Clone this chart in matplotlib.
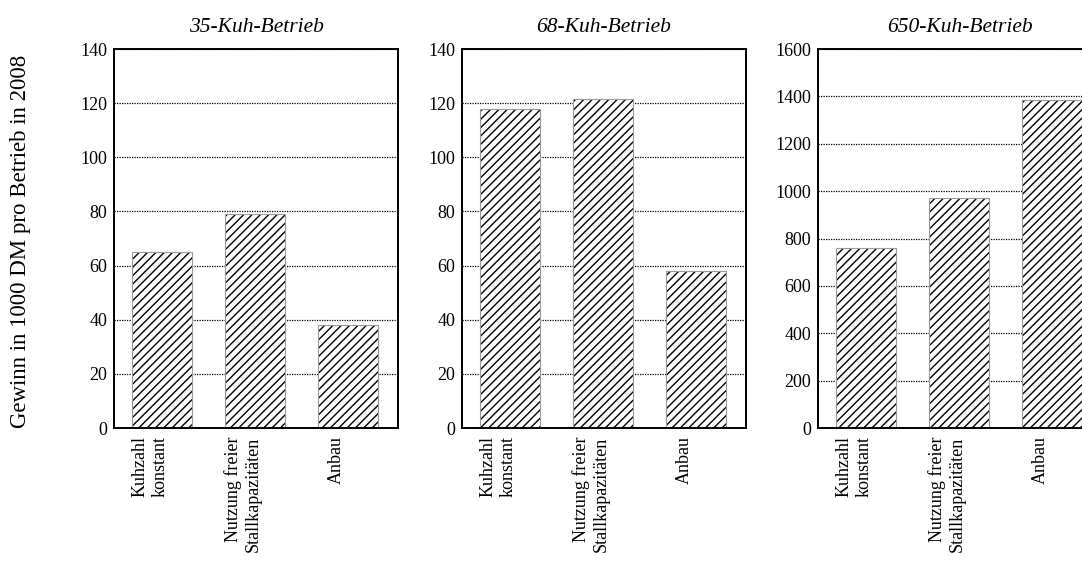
import matplotlib
matplotlib.use("Agg")
import matplotlib.pyplot as plt

plt.rcParams["font.family"] = ["Liberation Serif", "DejaVu Serif"]
plt.rcParams["hatch.linewidth"] = 1.0
plt.rcParams["hatch.color"] = "black"

# ── Data ──────────────────────────────────────────────────────────────────────
CATEGORIES = ["Kuhzahl\nkonstant", "Nutzung freier\nStallkapazitäten", "Anbau"]
TITLES = ["35-Kuh-Betrieb", "68-Kuh-Betrieb", "650-Kuh-Betrieb"]
VALS_35 = [65, 79, 38]
VALS_68 = [118, 121.5, 58]
VALS_650 = [760, 972, 1385]
YMAX = [140, 140, 1600]
YSTEP = [20, 20, 200]

YLABEL = "Gewinn in 1000 DM pro Betrieb in 2008"

# ── Figure ────────────────────────────────────────────────────────────────────
fig = plt.figure(figsize=(10.82, 5.62), dpi=100)

lefts = [0.1054, 0.4270, 0.7560]
bottom, width, height = 0.2384, 0.2625, 0.6744
LABEL_SHIFT = 0.13  # category labels sit slightly left of the bar centres

for left, title, vals, ymax, ystep in zip(lefts, TITLES, [VALS_35, VALS_68, VALS_650], YMAX, YSTEP):
    ax = fig.add_axes([left, bottom, width, height])
    x = list(range(len(vals)))
    # hatch fill
    ax.bar(x, vals, width=0.65, color="white", edgecolor="black",
           hatch="////", linewidth=0, zorder=2)
    # thin grey outline
    ax.bar(x, vals, width=0.65, color="none", edgecolor="#9a9a9a",
           linewidth=0.8, zorder=3)

    ax.set_xlim(-0.52, 2.54)
    ax.set_ylim(0, ymax)
    ax.set_yticks(range(0, ymax + 1, ystep))
    ax.yaxis.grid(True, color="black", linestyle=(0, (1, 1)), linewidth=0.9, zorder=1)
    ax.set_axisbelow(True)
    ax.tick_params(axis="both", length=0, labelsize=13)
    ax.tick_params(axis="y", pad=5)

    ax.set_xticks([i - LABEL_SHIFT for i in x])
    ax.set_xticklabels(CATEGORIES, rotation=90, va="top", ha="center",
                       multialignment="right", fontsize=13)
    ax.tick_params(axis="x", pad=6)

    for sp in ax.spines.values():
        sp.set_linewidth(1.4)
        sp.set_zorder(4)

    ax.set_title(title, fontsize=15.5, style="italic", pad=12)

fig.text(21 / 1082, 1 - 241 / 562, YLABEL, rotation=90, ha="center", va="center",
         fontsize=16.5)

fig.savefig("out.png", dpi=100)
